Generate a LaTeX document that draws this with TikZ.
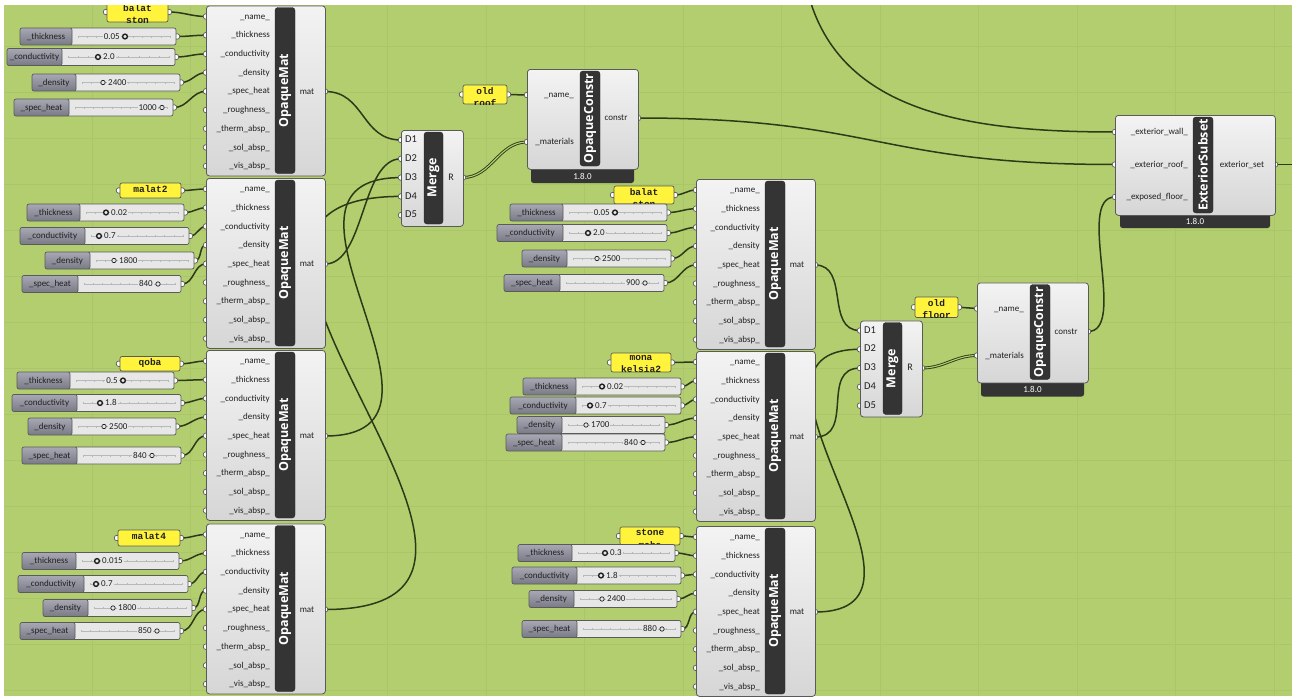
\documentclass[tikz,border=0pt]{standalone}
\usepackage{fontspec}
\setmainfont{Carlito}
\newfontfamily\barfont{Open Sans}
\newfontfamily\panelfont{Liberation Mono}
\usetikzlibrary{calc}
\usetikzlibrary{positioning}

\definecolor{ghcanvas}{RGB}{178,206,110}
\definecolor{ghgrid}{RGB}{170,198,104}
\definecolor{ghwire}{RGB}{44,58,24}
\definecolor{ghline}{RGB}{90,90,90}
\definecolor{ghtop}{RGB}{243,243,243}
\definecolor{ghbot}{RGB}{214,214,214}
\definecolor{ghdark}{RGB}{52,52,52}
\definecolor{ghslab}{RGB}{168,168,180}
\definecolor{ghslabd}{RGB}{122,122,134}
\definecolor{ghslide}{RGB}{231,231,231}
\definecolor{ghpanel}{RGB}{255,243,60}
\definecolor{ghtext}{RGB}{32,32,32}

\pgfdeclarelayer{canvas}
\pgfdeclarelayer{wires}
\pgfdeclarelayer{ports}
\pgfsetlayers{canvas,wires,ports,main}

\tikzset{
  ghbody/.style={draw=ghline, line width=0.8pt, rounded corners=3pt,
    top color=ghtop, bottom color=ghbot, inner sep=0pt},
  ghbar/.style={fill=ghdark, draw=ghdark!80!black, rounded corners=3pt, inner sep=0pt,
    text=white, font=\barfont\bfseries\fontsize{12.5}{14}\selectfont},
  ghport/.style={fill=white, draw=ghline, line width=0.7pt},
  ghlabel/.style={font=\fontsize{9}{10}\selectfont, text=ghtext, inner sep=0pt,
    text height=1.5ex, text depth=0.4ex},
  ghtab/.style={fill=ghdark, rounded corners=2.5pt},
  tabtext/.style={font=\fontsize{9}{10}\selectfont, text=white, inner sep=0pt},
  ghslab/.style={draw=ghline, line width=0.7pt, rounded corners=2pt,
    top color=ghslab, bottom color=ghslabd},
  ghslide/.style={draw=ghline, line width=0.7pt, rounded corners=2pt, fill=ghslide},
  slidertrack/.style={draw=black!28, line width=0.4pt},
  valtext/.style={ghlabel, fill=ghslide, inner xsep=1pt},
  knob/.style={draw=ghtext, fill=ghslide},
  value left/.code={\def\valanchor{east}\def\valshift{-4}},
  value right/.code={\def\valanchor{west}\def\valshift{4}},
  bold knob/.code={\def\knobwidth{1.4pt}\def\knobsize{2.4pt}},
  thin knob/.code={\def\knobwidth{0.7pt}\def\knobsize{2.2pt}},
  ghpanelbox/.style={draw=ghline, line width=0.7pt, rounded corners=2pt, fill=ghpanel},
  paneltext/.style={font=\panelfont\bfseries\fontsize{9.5}{12.5}\selectfont,
    text=ghtext, align=center, inner sep=0pt},
  wire/.style={draw=ghwire, line width=1.5pt},
  listwire/.style={draw=ghwire, line width=0.9pt, double=ghcanvas, double distance=1.1pt},
}

% slider: name, label left, split, right, top, label, value, knob x, options
\newcommand{\ghslider}[9]{%
  \begin{scope}[#9]
    \coordinate (#1-out) at (#4+1,#5+8.5);
    \begin{pgfonlayer}{ports}
      \draw[ghport] (#1-out) circle (2.8pt);
    \end{pgfonlayer}
    \draw[ghslide] (#3-3,#5) rectangle (#4,#5+17);
    \draw[ghslab] (#2,#5) rectangle (#3,#5+17);
    \node[ghlabel] (#1) at ({(#2+#3)/2},#5+8.5) {#6};
    \draw[slidertrack] (#3+6,#5+8.5) -- (#4-6,#5+8.5);
    \foreach \i in {0,...,10}
      \draw[slidertrack] ({#3+6+\i*(#4-#3-12)/10},#5+7.5) -- ++(0,2);
    \node[valtext, anchor=\valanchor] (#1-val) at (#8+\valshift,#5+8.5) {#7};
    \draw[knob, line width=\knobwidth] (#8,#5+8.5) circle (\knobsize);
  \end{scope}}

% panel: name, x0, y0, x1, y1, text
\newcommand{\ghpanel}[6]{%
  \coordinate (#1-in) at (#2-1,{(#3+#5)/2});
  \coordinate (#1-out) at (#4+1,{(#3+#5)/2});
  \begin{pgfonlayer}{ports}
    \draw[ghport] (#1-in) circle (2.8pt);
    \draw[ghport] (#1-out) circle (2.8pt);
  \end{pgfonlayer}
  \draw[ghpanelbox] (#2,#3) rectangle (#4,#5);
  \begin{scope}
    \clip (#2,#3) rectangle (#4,#5);
    \node[paneltext, anchor=north] (#1) at ({(#2+#4)/2},#3+2) {#6};
  \end{scope}}

% OpaqueMat component at left/top
\newcommand{\opaquemat}[3]{%
  \begin{scope}[shift={(#2,#3)}]
    \node[ghbody, anchor=north west, minimum width=119pt, minimum height=170pt] (#1) at (0,0) {};
    \node[ghbar, rotate=90, minimum width=166pt, minimum height=20pt] (#1-bar) at (79,85) {OpaqueMat};
    \foreach \lab [count=\k] in {\_name\_, \_thickness, \_conductivity, \_density, \_spec\_heat,
        \_roughness\_, \_therm\_absp\_, \_sol\_absp\_, \_vis\_absp\_} {
      \coordinate (#1-\k) at (0,{11+18.7*(\k-1)});
      \begin{pgfonlayer}{ports}
        \draw[ghport] (#1-\k) circle (2.8pt);
      \end{pgfonlayer}
      \node[ghlabel, anchor=east] (#1-\k-lab) at (64,{11+18.7*(\k-1)}) {\lab};
    }
    \coordinate (#1-out) at (119,86);
    \begin{pgfonlayer}{ports}
      \draw[ghport] (#1-out) circle (2.8pt);
    \end{pgfonlayer}
    \node[ghlabel] (#1-outlab) at (101,86) {mat};
  \end{scope}}

% Merge component
\newcommand{\ghmerge}[3]{%
  \begin{scope}[shift={(#2,#3)}]
    \node[ghbody, anchor=north west, minimum width=62pt, minimum height=96pt] (#1) at (0,0) {};
    \node[ghbar, rotate=90, minimum width=92pt, minimum height=19pt] (#1-bar) at (32.5,48) {Merge};
    \foreach \k in {1,...,5} {
      \coordinate (#1-\k) at (0,{10+18.8*(\k-1)});
      \begin{pgfonlayer}{ports}
        \draw[ghport] (#1-\k) circle (2.8pt);
      \end{pgfonlayer}
      \node[ghlabel, anchor=west, font=\fontsize{10.5}{12}\selectfont] (#1-\k-lab) at (4,{10+18.8*(\k-1)}) {D\k};
    }
    \coordinate (#1-out) at (62,47.5);
    \begin{pgfonlayer}{ports}
      \draw[ghport] (#1-out) circle (2.8pt);
    \end{pgfonlayer}
    \node[ghlabel, font=\fontsize{10}{12}\selectfont] (#1-outlab) at (50,47.5) {R};
  \end{scope}}

% OpaqueConstr component
\newcommand{\opaqueconstr}[3]{%
  \begin{scope}[shift={(#2,#3)}]
    \fill[ghtab] (4,90) rectangle (107,114);
    \node[tabtext] (#1-ver) at (55.5,107) {1.8.0};
    \node[ghbody, anchor=north west, minimum width=111pt, minimum height=100pt] (#1) at (0,0) {};
    \node[ghbar, rotate=90, minimum width=95pt, minimum height=20pt] (#1-bar) at (63,49.5) {OpaqueConstr};
    \coordinate (#1-1) at (0,26);
    \coordinate (#1-2) at (0,73);
    \coordinate (#1-out) at (111,49);
    \begin{pgfonlayer}{ports}
      \foreach \p in {1,2,out} \draw[ghport] (#1-\p) circle (2.8pt);
    \end{pgfonlayer}
    \node[ghlabel, anchor=east] (#1-1-lab) at (47,26) {\_name\_};
    \node[ghlabel, anchor=east] (#1-2-lab) at (47,73) {\_materials};
    \node[ghlabel] (#1-outlab) at (89,49) {constr};
  \end{scope}}

\begin{document}
\begin{tikzpicture}[x=1pt, y=-1pt]
  \useasboundingbox (0,0) rectangle (1292,696);

  \begin{pgfonlayer}{canvas}
    \fill[ghcanvas] (0,0) rectangle (1292,696);
    \foreach \gx in {92,190.5,...,1290} \draw[ghgrid, line width=0.6pt] (\gx,0) -- (\gx,696);
    \foreach \gy in {46,92,...,690} \draw[ghgrid, line width=0.6pt] (0,\gy) -- (1292,\gy);
  \end{pgfonlayer}

  % material columns
  \opaquemat{matA}{206}{5.5}
  \opaquemat{matB}{206}{178}
  \opaquemat{matC}{206}{350}
  \opaquemat{matD}{206}{523.5}
  \opaquemat{matE}{696}{179}
  \opaquemat{matF}{696}{351}
  \opaquemat{matG}{696}{526}

  % name panels
  \ghpanel{pA}{107}{2}{168}{22}{balat\\ston}
  \ghpanel{pB}{120}{183}{181}{198}{malat2}
  \ghpanel{pC}{120}{356.5}{180}{371}{qoba}
  \ghpanel{pD}{118}{530}{180}{546}{malat4}
  \ghpanel{pE}{614}{186}{674}{204}{balat\\ston}
  \ghpanel{pF}{611}{353}{671}{372}{mona\\kelsia2}
  \ghpanel{pG}{620}{527}{680}{545}{stone\\mabe}

  % sliders
  \ghslider{sA1}{20}{72}{176}{28}{\_thickness}{0.05}{125}{value left, bold knob}
  \ghslider{sA2}{7}{62}{175}{48.5}{\_conductivity}{2.0}{98}{value right, bold knob}
  \ghslider{sA3}{32}{76}{180}{74}{\_density}{2400}{103}{value right, thin knob}
  \ghslider{sA4}{14}{69}{173}{99}{\_spec\_heat}{1000}{162}{value left, thin knob}

  \ghslider{sB1}{27}{80}{184}{204}{\_thickness}{0.02}{106}{value right, bold knob}
  \ghslider{sB2}{20}{85}{189}{227.5}{\_conductivity}{0.7}{99}{value right, bold knob}
  \ghslider{sB3}{45}{90}{194}{252}{\_density}{1800}{114}{value right, thin knob}
  \ghslider{sB4}{22}{78}{181}{275.5}{\_spec\_heat}{840}{158}{value left, thin knob}

  \ghslider{sC1}{17}{70}{174}{372}{\_thickness}{0.5}{123}{value left, bold knob}
  \ghslider{sC2}{12}{77}{181}{394.5}{\_conductivity}{1.8}{100}{value right, bold knob}
  \ghslider{sC3}{28}{72}{176}{418}{\_density}{2500}{104}{value right, thin knob}
  \ghslider{sC4}{22}{77}{181}{447}{\_spec\_heat}{840}{152}{value left, thin knob}

  \ghslider{sD1}{22}{76}{179}{552.5}{\_thickness}{0.015}{97}{value right, bold knob}
  \ghslider{sD2}{18}{84}{188}{575.5}{\_conductivity}{0.7}{96}{value right, bold knob}
  \ghslider{sD3}{43}{88}{192}{599.5}{\_density}{1800}{113}{value right, thin knob}
  \ghslider{sD4}{20}{75}{180}{622.5}{\_spec\_heat}{850}{157}{value left, thin knob}

  \ghslider{sE1}{510}{563}{667}{204}{\_thickness}{0.05}{615}{value left, bold knob}
  \ghslider{sE2}{497}{563}{667}{224.5}{\_conductivity}{2.0}{588}{value right, bold knob}
  \ghslider{sE3}{522}{567}{671}{250}{\_density}{2500}{597}{value right, thin knob}
  \ghslider{sE4}{504}{560}{664}{274.5}{\_spec\_heat}{900}{645}{value left, thin knob}

  \ghslider{sF1}{523}{576}{681}{378}{\_thickness}{0.02}{602}{value right, bold knob}
  \ghslider{sF2}{510}{576}{681}{397}{\_conductivity}{0.7}{590}{value right, bold knob}
  \ghslider{sF3}{517}{562}{665}{416.5}{\_density}{1700}{586}{value right, thin knob}
  \ghslider{sF4}{506}{562}{665}{434}{\_spec\_heat}{840}{643}{value left, thin knob}

  \ghslider{sG1}{518}{572}{675}{544.5}{\_thickness}{0.3}{605}{value right, bold knob}
  \ghslider{sG2}{512}{577}{681}{567}{\_conductivity}{1.8}{601}{value right, bold knob}
  \ghslider{sG3}{529}{574}{677}{590.5}{\_density}{2400}{602}{value right, thin knob}
  \ghslider{sG4}{522}{577}{681}{620.5}{\_spec\_heat}{880}{662}{value left, thin knob}

  % merges and constructions
  \ghmerge{mergeA}{401}{130}
  \ghmerge{mergeB}{860}{320.5}
  \ghpanel{proof}{463}{85}{507}{104}{old\\roof}
  \ghpanel{pfloor}{915}{297}{958}{317.5}{old\\floor}
  \opaqueconstr{constrA}{527}{69}
  \opaqueconstr{constrB}{977}{282.5}

  % exterior subset
  \begin{scope}[shift={(1115,115)}]
    \fill[ghtab] (5,90) rectangle (155,113);
    \node[tabtext] (ext-ver) at (80,106.5) {1.8.0};
    \node[ghbody, anchor=north west, minimum width=160pt, minimum height=100pt] (ext) at (0,0) {};
    \node[ghbar, rotate=90, minimum width=96pt, minimum height=20pt] (ext-bar) at (88,50) {ExteriorSubset};
    \coordinate (ext-1) at (0,17);
    \coordinate (ext-2) at (0,49.5);
    \coordinate (ext-3) at (0,82);
    \coordinate (ext-out) at (160,49.5);
    \begin{pgfonlayer}{ports}
      \foreach \p in {1,2,3,out} \draw[ghport] (ext-\p) circle (2.8pt);
    \end{pgfonlayer}
    \node[ghlabel, anchor=east] (ext-1-lab) at (73,17) {\_exterior\_wall\_};
    \node[ghlabel, anchor=east] (ext-2-lab) at (73,49.5) {\_exterior\_roof\_};
    \node[ghlabel, anchor=east] (ext-3-lab) at (73,82) {\_exposed\_floor\_};
    \node[ghlabel] (ext-outlab) at (127,49.5) {exterior\_set};
  \end{scope}
  \coordinate (upstream) at (805,-20);
  \coordinate (downstream) at (1300,164.5);

  % wires
  \begin{pgfonlayer}{wires}
    \foreach \c in {A,...,G} {
      \draw[wire] (p\c-out) to[out=0,in=180] (mat\c-1);
      \foreach \k [evaluate=\k as \j using int(\k+1)] in {1,...,4}
        \draw[wire] (s\c\k-out) to[out=0,in=180] (mat\c-\j);
    }
    \draw[wire] (matA-out) .. controls +(40,0) and +(-40,0) .. (mergeA-1);
    \draw[wire] (matB-out) .. controls +(40,0) and +(-40,0) .. (mergeA-2);
    \draw[wire] (matC-out) .. controls +(160,0) and +(-160,0) .. (mergeA-3);
    \draw[wire] (matD-out) .. controls +(280,0) and +(-280,0) .. (mergeA-4);
    \draw[wire] (matE-out) .. controls +(35,0) and +(-35,0) .. (mergeB-1);
    \draw[wire] (matF-out) .. controls +(40,0) and +(-40,0) .. (mergeB-3);
    \draw[wire] (matG-out) .. controls +(150,0) and +(-150,0) .. (mergeB-2);
    \draw[listwire] (mergeA-out) to[out=0,in=180] (constrA-2);
    \draw[listwire] (mergeB-out) to[out=0,in=180] (constrB-2);
    \draw[wire] (proof-out) -- (constrA-1);
    \draw[wire] (pfloor-out) -- (constrB-1);
    \draw[wire] (upstream) .. controls +(25,130) and +(-155,0) .. (ext-1);
    \draw[wire] (constrA-out) .. controls +(240,0) and +(-240,0) .. (ext-2);
    \draw[wire] (constrB-out) .. controls +(40,0) and +(-40,0) .. (ext-3);
    \draw[wire] (ext-out) -- (downstream);
  \end{pgfonlayer}

  % screenshot border
  \fill[white] (0,0) rectangle (1292,4.5);
  \fill[white] (0,0) rectangle (4,696);
\end{tikzpicture}
\end{document}
